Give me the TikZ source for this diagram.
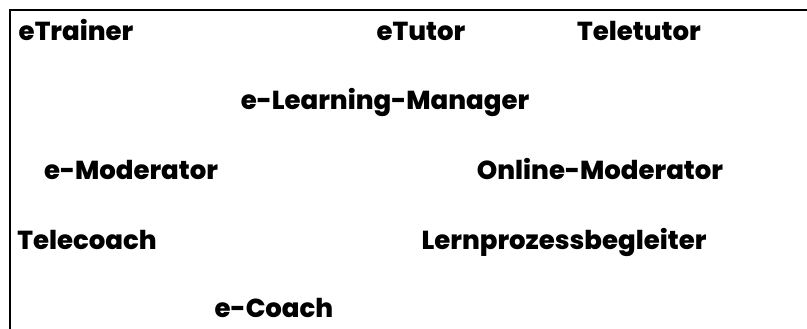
\documentclass[tikz,border=0pt]{standalone}
\usepackage{fontspec}
\setmainfont{Poppins}[BoldFont={Poppins ExtraBold}]
\usetikzlibrary{positioning}

\tikzset{
  term/.style={font=\fontsize{26}{28}\selectfont\bfseries, inner sep=0pt, anchor=base}
}

\begin{document}
\begin{tikzpicture}[x=1pt,y=-1pt]
              \useasboundingbox (0,0) rectangle (807,329);
              \draw[line width=2pt] (10,329) -- (10,10) -- (807,10);
              % first row
              \node[term](trainer)at(76,41){eTrainer};
              \node[term](tutor)at(421,41){eTutor};
              \node[term](teletutor)at(639,41){Teletutor};
              \node[term](manager)at(385,110){e-Learning-Manager};
              \node[term](emod)at(131,179){e-Moderator};
              \node[term](onmod)at(600,179){Online-Moderator};
              \node[term](telecoach)at(87,249){Telecoach};
              \node[term](lpb)at(564,249){Lernprozessbegleiter};
              \node[term](ecoach)at(274,317){e-Coach};
            \end{tikzpicture}
\end{document}
